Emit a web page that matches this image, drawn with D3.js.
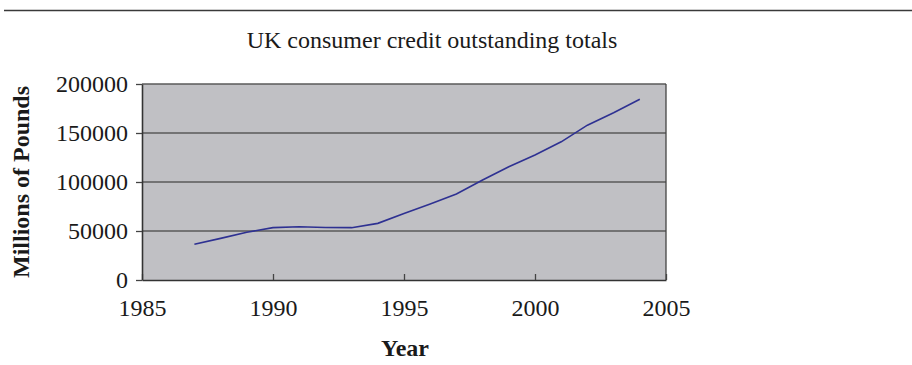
<!DOCTYPE html>
<html>
<head>
<meta charset="utf-8">
<script src="https://cdn.jsdelivr.net/npm/d3@7"></script>
<style>
  html, body { margin: 0; padding: 0; background: #fff; }
  svg { display: block; font-family: "Liberation Serif", "Times New Roman", serif; }
</style>
</head>
<body>
<svg id="chart" width="912" height="365"></svg>
<script>
// UK consumer credit outstanding, millions of pounds, by year
const years = [1987, 1988, 1989, 1990, 1991, 1992, 1993, 1994, 1995, 1996,
               1997, 1998, 1999, 2000, 2001, 2002, 2003, 2004];
const credit = [36400, 42500, 48700, 53400, 54400, 53600, 53400, 57800, 67800, 77500,
                87800, 102000, 115600, 127500, 141000, 158000, 170700, 184400];
const xTicks = [1985, 1990, 1995, 2000, 2005];
const yTicks = [0, 50000, 100000, 150000, 200000];

const svg = d3.select("#chart");
const margin = { left: 142, right: 246, top: 84, bottom: 85 };
const W = 912, H = 365;
const innerW = W - margin.left - margin.right;
const innerH = H - margin.top - margin.bottom;
const FONT = "Liberation Serif, Times New Roman, serif";

// Rule across the top of the figure
svg.append("line")
  .attr("x1", 4).attr("x2", 912).attr("y1", 10.5).attr("y2", 10.5)
  .attr("stroke", "#3a3a3a").attr("stroke-width", 1.6);

svg.append("text")
  .attr("x", 432).attr("y", 48)
  .attr("text-anchor", "middle")
  .attr("font-size", 24).attr("fill", "#1a1a1a")
  .text("UK consumer credit outstanding totals");

const x = d3.scaleLinear().domain([1985, 2005]).range([0, innerW]);
const y = d3.scaleLinear().domain([0, 200000]).range([innerH, 0]);

const g = svg.append("g").attr("transform", `translate(${margin.left},${margin.top})`);

// Plot background
g.append("rect")
  .attr("x", 0).attr("y", 0).attr("width", innerW).attr("height", innerH)
  .attr("fill", "#c0c0c4");

// Horizontal gridlines
g.selectAll("line.grid").data(yTicks.filter(d => d > 0)).join("line")
  .attr("class", "grid")
  .attr("x1", 0).attr("x2", innerW)
  .attr("y1", d => y(d)).attr("y2", d => y(d))
  .attr("stroke", "#5a5a5a").attr("stroke-width", 1.3);

// Plot border (right edge)
g.append("line")
  .attr("x1", innerW).attr("x2", innerW).attr("y1", 0).attr("y2", innerH)
  .attr("stroke", "#444").attr("stroke-width", 1.3);

// Data line
const line = d3.line().x((d, i) => x(years[i])).y(d => y(d));
g.append("path")
  .datum(credit)
  .attr("d", line)
  .attr("fill", "none")
  .attr("stroke", "#2e3192")
  .attr("stroke-width", 1.6);

// Axes
const xAxis = d3.axisBottom(x).tickValues(xTicks).tickFormat(d3.format("d"))
  .tickSize(-6).tickSizeOuter(0).tickPadding(12);
const yAxis = d3.axisLeft(y).tickValues(yTicks).tickFormat(d3.format("d"))
  .tickSize(6).tickSizeOuter(0).tickPadding(8);

const xg = g.append("g").attr("transform", `translate(0,${innerH})`).call(xAxis);
const yg = g.append("g").call(yAxis);

[xg, yg].forEach(a => {
  a.select(".domain").attr("stroke", "#333").attr("stroke-width", 1.6);
  a.selectAll(".tick line").attr("stroke", "#444").attr("stroke-width", 1.3);
  a.selectAll(".tick text").attr("font-size", 24).attr("fill", "#1a1a1a")
    .attr("font-family", FONT);
});
// x ticks point upward from the axis into the plot, y ticks outward to the left
xg.selectAll(".tick line").attr("y2", -6);
xg.selectAll(".tick text").attr("y", 36).attr("dy", null);

// Axis titles
svg.append("text")
  .attr("x", 405).attr("y", 356)
  .attr("text-anchor", "middle")
  .attr("font-size", 24).attr("font-weight", "bold").attr("fill", "#1a1a1a")
  .text("Year");

svg.append("text")
  .attr("transform", "translate(29,182) rotate(-90)")
  .attr("text-anchor", "middle")
  .attr("font-size", 24).attr("font-weight", "bold").attr("fill", "#1a1a1a")
  .text("Millions of Pounds");
</script>
</body>
</html>
